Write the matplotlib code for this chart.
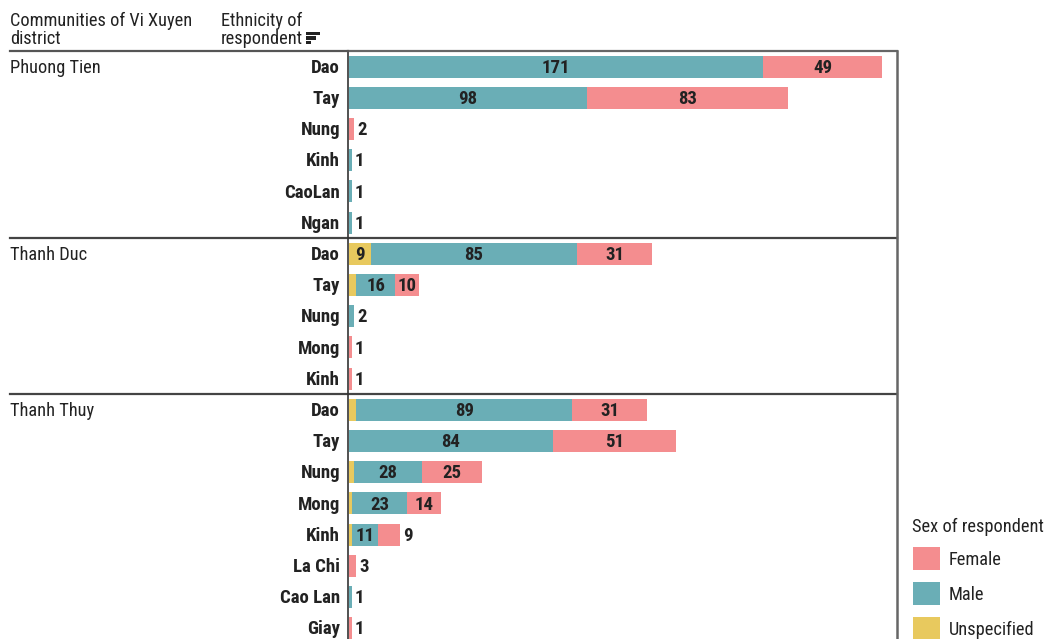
import matplotlib
matplotlib.use("Agg")
import matplotlib.pyplot as plt
from matplotlib import font_manager
from matplotlib.patches import Rectangle
from matplotlib.lines import Line2D
from matplotlib.transforms import blended_transform_factory

available = {f.name for f in font_manager.fontManager.ttflist}
preferred = ['Roboto Condensed', 'Archivo Narrow', 'PT Sans Narrow',
             'Liberation Sans Narrow', 'Liberation Sans']
plt.rcParams['font.family'] = [f for f in preferred if f in available] + ['DejaVu Sans']

# Communities and the ethnic groups surveyed in each
communities = ["Phuong Tien", "Thanh Duc", "Thanh Thuy"]
phuong_tien_ethnicity = ["Dao", "Tay", "Nung", "Kinh", "CaoLan", "Ngan"]
thanh_duc_ethnicity = ["Dao", "Tay", "Nung", "Mong", "Kinh"]
thanh_thuy_ethnicity = ["Dao", "Tay", "Nung", "Mong", "Kinh", "La Chi", "Cao Lan", "Giay"]

# Respondent counts by sex, one entry per ethnicity row (top to bottom)
unspecified = [0, 0, 0, 0, 0, 0,   9, 3, 0, 0, 0,   3, 0, 2, 1, 1, 0, 0, 0]
male        = [171, 98, 0, 1, 1, 1,   85, 16, 2, 0, 0,   89, 84, 28, 23, 11, 0, 1, 0]
female      = [49, 83, 2, 0, 0, 0,   31, 10, 0, 1, 1,   31, 51, 25, 14, 9, 3, 0, 1]

sexes = ["Female", "Male", "Unspecified"]
colors = {"Female": "#f48d8f", "Male": "#6aaeb6", "Unspecified": "#e8c95e"}

groups = [phuong_tien_ethnicity, thanh_duc_ethnicity, thanh_thuy_ethnicity]
ethnicities = [e for g in groups for e in g]

W, H = 1049, 639
fig = plt.figure(figsize=(W / 100, H / 100), dpi=100)


def fx(px):
    return px / W


def fy(py):
    return 1 - py / H


ax_left, ax_right, ax_top = 348, 897, 51
ax = fig.add_axes([fx(ax_left), 0, fx(ax_right - ax_left), fy(ax_top)])

row_pitch = 31.2
n_rows = len(ethnicities)
ax.set_ylim((H - ax_top) / row_pitch - 0.5, -0.5)
x_min, x_max = -0.45, 226.1
ax.set_xlim(x_min, x_max)

px_per_unit = (ax_right - ax_left) / (x_max - x_min)
text_color = "#222222"
label_fs = 13.5
plain_fs = 13.2
baseline_shift = 6.3 / row_pitch  # baseline sits a little below the row centre

stack_order = [("Unspecified", unspecified), ("Male", male), ("Female", female)]
for i in range(n_rows):
    left = 0
    segs = [(name, vals[i]) for name, vals in stack_order if vals[i] > 0]
    for k, (name, v) in enumerate(segs):
        ax.barh(i, v, left=left, height=0.71, color=colors[name], linewidth=0)
        last = k == len(segs) - 1
        inside = v >= 10 if last else v >= 5
        if inside:
            ax.text(left + v / 2, i + baseline_shift, str(v), ha="center", va="baseline",
                    fontsize=label_fs, fontweight="bold", color=text_color)
        elif last:
            ax.text(left + v + 3 / px_per_unit, i + baseline_shift, str(v), ha="left",
                    va="baseline", fontsize=label_fs, fontweight="bold", color=text_color)
        left += v

ax.set_xticks([])
ax.set_yticks([])
ax.spines["bottom"].set_visible(False)
ax.spines["left"].set_color("#333333")
ax.spines["left"].set_linewidth(1.2)
ax.spines["top"].set_color("#666666")
ax.spines["top"].set_linewidth(1.6)
ax.spines["right"].set_color("#666666")
ax.spines["right"].set_linewidth(1.8)

# Ethnicity labels, right-aligned against the axis
trans_y = blended_transform_factory(fig.transFigure, ax.transData)
for i, e in enumerate(ethnicities):
    fig.text(fx(340), i + baseline_shift, e, transform=trans_y, ha="right", va="baseline",
             fontsize=label_fs, fontweight="bold", color=text_color)

# Community labels and group separators
start = 0
x0_axes = (10 - ax_left) / (ax_right - ax_left)
trans_line = blended_transform_factory(ax.transAxes, ax.transData)
for gi, (name, g) in enumerate(zip(communities, groups)):
    fig.text(fx(10), start + baseline_shift, name, transform=trans_y, ha="left",
             va="baseline", fontsize=plain_fs, color=text_color)
    if gi > 0:
        ax.plot([x0_axes, 1], [start - 0.5, start - 0.5], transform=trans_line,
                color="#444444", lw=1.6, clip_on=False)
    start += len(g)

# Header row (baseline given for the last line of each two-line header)
fig.add_artist(Line2D([fx(10), fx(ax_left)], [fy(51), fy(51)], color="#555555", lw=1.6))
fig.text(fx(10), fy(44.5), "Communities of Vi Xuyen\ndistrict", ha="left", va="baseline",
         fontsize=plain_fs, color=text_color, linespacing=1.03)
fig.text(fx(221), fy(44.5), "Ethnicity of\nrespondent", ha="left", va="baseline",
         fontsize=plain_fs, color=text_color, linespacing=1.03)
# sort indicator
for k, w in enumerate([14, 10, 5]):
    fig.add_artist(Rectangle((fx(306), fy(31.7 + k * 4.6 + 3.3)), fx(w), 3.3 / H,
                             color="#222222", lw=0))

# Legend
fig.text(fx(912), fy(532), "Sex of respondent", ha="left", va="baseline",
         fontsize=plain_fs, color=text_color)
for k, name in enumerate(sexes):
    yc = 558.5 + k * 35
    fig.add_artist(Rectangle((fx(913), fy(yc + 11.5)), fx(27), 23 / H,
                             color=colors[name], lw=0))
    fig.text(fx(949), fy(yc + 6.3), name, ha="left", va="baseline",
             fontsize=plain_fs, color=text_color)

fig.savefig("out.png", dpi=100, facecolor="white")
